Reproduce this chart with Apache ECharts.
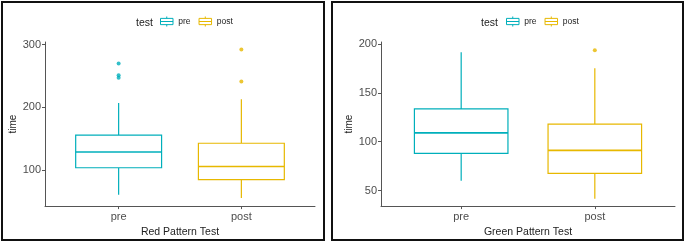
<!DOCTYPE html>
<html><head><meta charset="utf-8">
<script src="https://cdn.jsdelivr.net/npm/echarts@6/dist/echarts.min.js"></script>
<style>html,body{margin:0;padding:0;background:#fff}#c{width:685px;height:243px}</style>
</head><body><div id="c"></div>
<script>
const categories = ['pre', 'post'];
const groupColors = ['#00AFBB', '#E7B800'];
// Red Pattern Test: [min, Q1, median, Q3, max]
const redPre = [61, 104, 129, 156, 207];
const redPost = [56, 85, 106, 143, 213];
const redPreOutliers = [270, 251, 247];
const redPostOutliers = [292, 241];
// Green Pattern Test
const greenPre = [60, 88, 109, 133.5, 191.5];
const greenPost = [41.5, 67.5, 91, 118, 175];
const greenPreOutliers = [];
const greenPostOutliers = [193.5];
const redTicks = [100, 200, 300];
const greenTicks = [50, 100, 150, 200];

const chart = echarts.init(document.getElementById('c'));
const FONT = 'Liberation Sans';
const iconPath = 'path://M0,3 L20,3 L20,13 L0,13 Z M0,8 L20,8 M10,0 L10,3 M10,13 L10,16';

function xAxisCfg(grid, name) {
  return {
    type: 'value', gridIndex: grid, min: 0.4, max: 2.6,
    name: name, nameLocation: 'middle', nameGap: 19,
    nameTextStyle: {color: '#222', fontSize: 10.5, fontFamily: FONT},
    splitLine: {show: false},
    axisLine: {show: true, lineStyle: {color: '#555', width: 1}},
    axisTick: {show: true, length: 3, customValues: [1, 2], lineStyle: {color: '#555'}},
    axisLabel: {customValues: [1, 2], formatter: v => categories[Math.round(v) - 1] || '',
      color: '#4d4d4d', fontSize: 11, fontFamily: FONT, margin: 5}
  };
}
function yAxisCfg(grid, min, max, ticks) {
  return {
    type: 'value', gridIndex: grid, min: min, max: max,
    name: 'time', nameLocation: 'middle', nameRotate: 90, nameGap: 27,
    nameTextStyle: {color: '#222', fontSize: 10, fontFamily: FONT},
    splitLine: {show: false},
    axisLine: {show: true, lineStyle: {color: '#555', width: 1}},
    axisTick: {show: true, length: 3, customValues: ticks, lineStyle: {color: '#555'}},
    axisLabel: {customValues: ticks, color: '#4d4d4d', fontSize: 11, fontFamily: FONT, margin: 4}
  };
}
function boxSeries(name, grid, x, vals, color) {
  return {
    type: 'custom', name: name, xAxisIndex: grid, yAxisIndex: grid,
    data: [[x].concat(vals)],
    encode: {x: 0, y: [1, 2, 3, 4, 5]},
    itemStyle: {color: 'rgba(0,0,0,0)', borderColor: color},
    silent: true,
    renderItem: function (params, api) {
      const xv = api.value(0);
      const half = api.size([1, 0])[0] * 0.35;
      const pMin = api.coord([xv, api.value(1)]);
      const pQ1 = api.coord([xv, api.value(2)]);
      const pMed = api.coord([xv, api.value(3)]);
      const pQ3 = api.coord([xv, api.value(4)]);
      const pMax = api.coord([xv, api.value(5)]);
      const st = {stroke: color, lineWidth: 1.2, fill: null};
      return {type: 'group', children: [
        {type: 'line', shape: {x1: pMin[0], y1: pMin[1], x2: pQ1[0], y2: pQ1[1]}, style: st},
        {type: 'line', shape: {x1: pQ3[0], y1: pQ3[1], x2: pMax[0], y2: pMax[1]}, style: st},
        {type: 'rect', shape: {x: pQ3[0] - half, y: pQ3[1], width: half * 2, height: pQ1[1] - pQ3[1]}, style: {stroke: color, lineWidth: 1.2, fill: '#fff'}},
        {type: 'line', shape: {x1: pMed[0] - half, y1: pMed[1], x2: pMed[0] + half, y2: pMed[1]}, style: {stroke: color, lineWidth: 1.6}}
      ]};
    }
  };
}
function outSeries(name, grid, x, vals, color) {
  return {
    type: 'scatter', name: name, xAxisIndex: grid, yAxisIndex: grid,
    data: vals.map(v => [x, v]), symbolSize: 4,
    itemStyle: {color: color}, silent: true
  };
}
function legendCfg(left) {
  return {
    left: left, top: 11, itemWidth: 13, itemHeight: 10, itemGap: 8,
    icon: iconPath, selectedMode: false,
    textStyle: {fontSize: 8.5, color: '#222', fontFamily: FONT},
    data: categories.map((c, i) => ({name: c, itemStyle: {color: 'rgba(0,0,0,0)', borderColor: groupColors[i], borderWidth: 1}}))
  };
}

chart.setOption({
  animation: false,
  grid: [
    {left: 45, width: 270, top: 42, height: 165},
    {left: 381, width: 294, top: 42, height: 165}
  ],
  xAxis: [xAxisCfg(0, 'Red Pattern Test'), xAxisCfg(1, 'Green Pattern Test')],
  yAxis: [yAxisCfg(0, 43, 304, redTicks), yAxisCfg(1, 34, 202, greenTicks)],
  legend: [legendCfg(155), legendCfg(501)],
  title: [
    {text: 'test', left: 131, top: 13, textStyle: {fontSize: 10.5, fontWeight: 'normal', color: '#222', fontFamily: FONT}},
    {text: 'test', left: 476, top: 13, textStyle: {fontSize: 10.5, fontWeight: 'normal', color: '#222', fontFamily: FONT}}
  ],
  series: [
    boxSeries('pre', 0, 1, redPre, groupColors[0]),
    boxSeries('post', 0, 2, redPost, groupColors[1]),
    outSeries('pre', 0, 1, redPreOutliers, groupColors[0]),
    outSeries('post', 0, 2, redPostOutliers, groupColors[1]),
    boxSeries('pre', 1, 1, greenPre, groupColors[0]),
    boxSeries('post', 1, 2, greenPost, groupColors[1]),
    outSeries('pre', 1, 1, greenPreOutliers, groupColors[0]),
    outSeries('post', 1, 2, greenPostOutliers, groupColors[1])
  ],
  graphic: [
    {type: 'rect', shape: {x: 2, y: 2, width: 322, height: 238}, style: {fill: 'none', stroke: '#111', lineWidth: 2}, silent: true},
    {type: 'rect', shape: {x: 332, y: 2, width: 351, height: 238}, style: {fill: 'none', stroke: '#111', lineWidth: 2}, silent: true}
  ]
});
</script>
</body></html>
